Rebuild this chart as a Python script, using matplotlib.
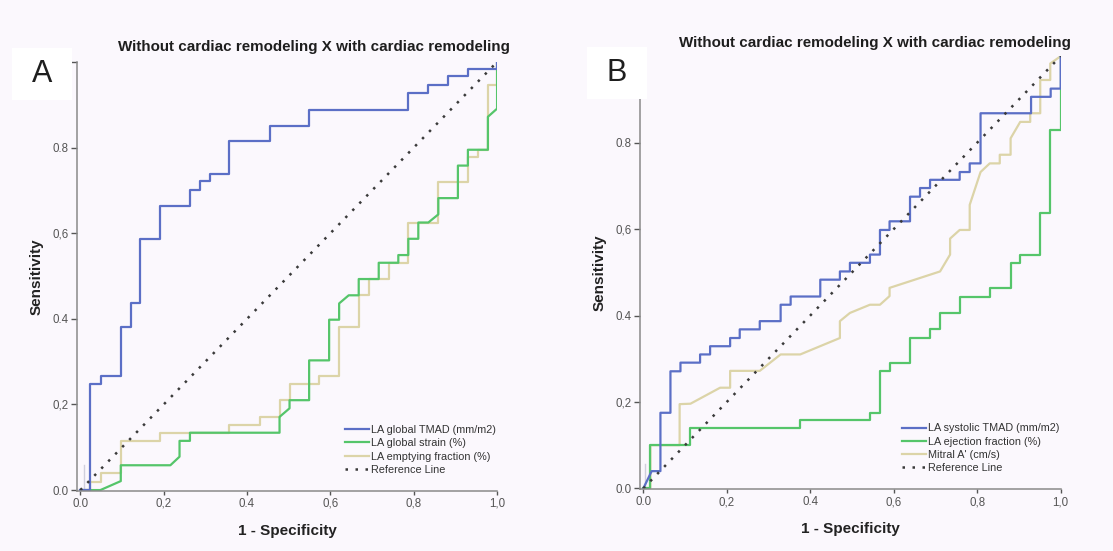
import matplotlib
matplotlib.use("Agg")
import matplotlib.pyplot as plt
from matplotlib.patches import Rectangle

plt.rcParams['font.family'] = ['Liberation Sans', 'DejaVu Sans']

# ROC curves (vertices of each polyline: 1 - specificity, sensitivity)
title = "Without cardiac remodeling X with cardiac remodeling"

a_tmad_x = [0, 0.024, 0.024, 0.049, 0.049, 0.097, 0.097, 0.121, 0.121, 0.144, 0.144, 0.192, 0.192,
            0.262, 0.262, 0.287, 0.287, 0.310, 0.310, 0.357, 0.357, 0.454, 0.454, 0.549, 0.549,
            0.787, 0.787, 0.835, 0.835, 0.883, 0.883, 0.930, 0.930, 1.0, 1.0]
a_tmad_y = [0, 0, 0.247, 0.247, 0.266, 0.266, 0.380, 0.380, 0.436, 0.436, 0.587, 0.587, 0.664,
            0.664, 0.701, 0.701, 0.721, 0.721, 0.739, 0.739, 0.815, 0.815, 0.851, 0.851, 0.889,
            0.889, 0.928, 0.928, 0.947, 0.947, 0.967, 0.967, 0.984, 0.984, 1.0]

a_strain_x = [0, 0.048, 0.097, 0.097, 0.216, 0.238, 0.238, 0.263, 0.263, 0.478, 0.478, 0.502, 0.502,
              0.549, 0.549, 0.597, 0.597, 0.621, 0.621, 0.644, 0.668, 0.668, 0.716, 0.716, 0.763,
              0.763, 0.787, 0.787, 0.811, 0.811, 0.835, 0.859, 0.859, 0.906, 0.906, 0.930, 0.930,
              0.978, 0.978, 1.0, 1.0]
a_strain_y = [0, 0, 0.021, 0.058, 0.058, 0.078, 0.115, 0.115, 0.134, 0.134, 0.171, 0.191, 0.210,
              0.210, 0.303, 0.303, 0.398, 0.398, 0.436, 0.455, 0.455, 0.493, 0.493, 0.531, 0.531,
              0.549, 0.549, 0.587, 0.587, 0.625, 0.625, 0.644, 0.682, 0.682, 0.758, 0.758, 0.795,
              0.795, 0.872, 0.891, 1.0]

a_empty_x = [0, 0.024, 0.024, 0.049, 0.049, 0.097, 0.097, 0.192, 0.192, 0.357, 0.357, 0.430, 0.430,
             0.478, 0.478, 0.502, 0.502, 0.573, 0.573, 0.621, 0.621, 0.668, 0.668, 0.692, 0.692,
             0.740, 0.740, 0.787, 0.787, 0.859, 0.859, 0.930, 0.930, 0.954, 0.954, 0.978, 0.978,
             1.0, 1.0]
a_empty_y = [0, 0, 0.019, 0.019, 0.039, 0.039, 0.115, 0.115, 0.134, 0.134, 0.153, 0.153, 0.171,
             0.171, 0.210, 0.210, 0.247, 0.247, 0.267, 0.267, 0.380, 0.380, 0.455, 0.455, 0.493,
             0.493, 0.531, 0.531, 0.625, 0.625, 0.720, 0.720, 0.777, 0.777, 0.795, 0.795, 0.947,
             0.947, 1.0]

b_tmad_x = [0, 0.01, 0.02, 0.041, 0.041, 0.065, 0.065, 0.089, 0.089, 0.136, 0.136, 0.160, 0.160,
            0.208, 0.208, 0.231, 0.231, 0.279, 0.279, 0.329, 0.329, 0.353, 0.353, 0.424, 0.424,
            0.471, 0.471, 0.495, 0.495, 0.543, 0.543, 0.567, 0.567, 0.590, 0.590, 0.639, 0.639,
            0.663, 0.663, 0.687, 0.687, 0.758, 0.758, 0.782, 0.782, 0.808, 0.808, 0.929, 0.929,
            0.976, 0.976, 1.0, 1.0]
b_tmad_y = [0, 0.02, 0.04, 0.04, 0.175, 0.175, 0.271, 0.271, 0.291, 0.291, 0.310, 0.310, 0.329,
            0.329, 0.348, 0.348, 0.368, 0.368, 0.387, 0.387, 0.425, 0.425, 0.444, 0.444, 0.483,
            0.483, 0.502, 0.502, 0.522, 0.522, 0.541, 0.541, 0.598, 0.598, 0.618, 0.618, 0.675,
            0.675, 0.695, 0.695, 0.714, 0.714, 0.732, 0.732, 0.752, 0.752, 0.868, 0.868, 0.906,
            0.906, 0.925, 0.925, 1.0]

b_ef_x = [0, 0.016, 0.016, 0.113, 0.113, 0.376, 0.376, 0.543, 0.543, 0.567, 0.567, 0.590, 0.590,
          0.639, 0.639, 0.687, 0.687, 0.711, 0.711, 0.758, 0.758, 0.830, 0.830, 0.880, 0.880,
          0.903, 0.903, 0.951, 0.951, 0.975, 0.975, 1.0, 1.0]
b_ef_y = [0, 0, 0.1, 0.1, 0.139, 0.139, 0.158, 0.158, 0.175, 0.175, 0.271, 0.271, 0.291, 0.291,
          0.348, 0.348, 0.368, 0.368, 0.406, 0.406, 0.444, 0.444, 0.464, 0.464, 0.522, 0.522,
          0.541, 0.541, 0.637, 0.637, 0.829, 0.829, 1.0]

b_mitral_x = [0, 0.017, 0.017, 0.087, 0.087, 0.113, 0.184, 0.208, 0.208, 0.279, 0.329, 0.376, 0.471,
              0.471, 0.495, 0.543, 0.567, 0.590, 0.590, 0.711, 0.735, 0.735, 0.758, 0.782, 0.782,
              0.808, 0.830, 0.854, 0.854, 0.880, 0.880, 0.903, 0.927, 0.927, 0.951, 0.951, 0.975,
              0.975, 1.0]
b_mitral_y = [0, 0, 0.1, 0.1, 0.195, 0.196, 0.233, 0.233, 0.272, 0.272, 0.310, 0.310, 0.348,
              0.387, 0.406, 0.425, 0.425, 0.445, 0.464, 0.502, 0.541, 0.578, 0.598, 0.598, 0.656,
              0.732, 0.752, 0.752, 0.772, 0.772, 0.810, 0.848, 0.848, 0.868, 0.868, 0.945, 0.945,
              0.983, 1.0]

# faint vertical stub near the origin in both panels
a_stub_x, a_stub_y = [0.008, 0.008], [0, 0.058]
b_stub_x, b_stub_y = [0.004, 0.004], [0, 0.056]

ticks = [0, 0.2, 0.4, 0.6, 0.8, 1.0]
xtick_labels = ["0.0", "0,2", "0.4", "0,6", "0,8", "1,0"]
# the 1.0 label sits under the white panel-letter box, so it is left blank
ytick_labels = ["0.0", "0,2", "0.4", "0,6", "0.8", ""]

blue = '#5b6fc6'
green = '#55c56a'
tan = '#dcd4a8'
bg = '#fbf8fd'

fig = plt.figure(figsize=(11.13, 5.51), dpi=100, facecolor=bg)
ax_a = fig.add_axes([0.0692, 0.109, 0.3774, 0.7785])
ax_b = fig.add_axes([0.575, 0.112, 0.378, 0.786])

panels = [
    (ax_a, [(a_tmad_x, a_tmad_y, blue, 'LA global TMAD (mm/m2)'),
            (a_strain_x, a_strain_y, green, 'LA global strain (%)'),
            (a_empty_x, a_empty_y, tan, 'LA emptying fraction (%)')], (a_stub_x, a_stub_y)),
    (ax_b, [(b_tmad_x, b_tmad_y, blue, 'LA systolic TMAD (mm/m2)'),
            (b_ef_x, b_ef_y, green, 'LA ejection fraction (%)'),
            (b_mitral_x, b_mitral_y, tan, "Mitral A' (cm/s)")], (b_stub_x, b_stub_y)),
]

for ax, curves, stub in panels:
    ax.set_facecolor(bg)
    ax.plot(stub[0], stub[1], color='#cfcfdc', lw=1.0)
    lines = []
    # draw tan first so blue/green sit on top like the original
    for x, y, c, lab in curves[::-1]:
        ln, = ax.plot(x, y, color=c, lw=1.6, label=lab)
        lines.append(ln)
    ref, = ax.plot([0, 1], [0, 1], color='#3a3a3a', lw=1.8, linestyle=(0, (1, 3.0)),
                   label='Reference Line')
    handles = lines[::-1] + [ref]
    ax.legend(handles=handles, loc='lower right', bbox_to_anchor=(1.015, 0.02), frameon=False,
              fontsize=7.8, handlelength=2.2, handletextpad=0.2, labelspacing=0.3,
              borderpad=0.2, labelcolor='#333333')

    ax.set_xlim(-0.008, 1.0)
    ax.set_ylim(-0.002, 1.0)
    ax.set_xticks(ticks)
    ax.set_xticklabels(xtick_labels)
    ax.set_yticks(ticks)
    ax.set_yticklabels(ytick_labels)
    ax.tick_params(labelsize=8.3, colors='#555555', length=4, width=1, direction='out', pad=2)
    ax.tick_params(axis='x', length=3)
    for s in ['top', 'right']:
        ax.spines[s].set_visible(False)
    for s in ['left', 'bottom']:
        ax.spines[s].set_color('#8a8a8a')
        ax.spines[s].set_linewidth(1.1)
    ax.set_ylabel('Sensitivity', fontsize=11, fontweight='bold', color='#222222', labelpad=6)
    ax.set_xlabel('1 - Specificity', fontsize=11, fontweight='bold', color='#222222', labelpad=10)

fig.text(313.5 / 1113, 1 - 47 / 551, title, ha='center', va='center', fontsize=10.9,
         fontweight='bold', color='#1e1e1e')
fig.text(875 / 1113, 1 - 43 / 551, title, ha='center', va='center', fontsize=10.9,
         fontweight='bold', color='#1e1e1e')

# white label boxes "A" and "B"
for (x0, y0, x1, y1, lab) in [(12, 48, 72, 100, 'A'), (587, 47, 647, 99, 'B')]:
    r = Rectangle((x0 / 1113, 1 - y1 / 551), (x1 - x0) / 1113, (y1 - y0) / 551,
                  transform=fig.transFigure, facecolor='white', edgecolor='none', zorder=10)
    fig.add_artist(r)
    fig.text((x0 + x1) / 2 / 1113, 1 - (y0 + y1) / 2 / 551, lab, ha='center', va='center',
             fontsize=22, color='#1e1e1e', zorder=11)

fig.savefig('out.png', dpi=100, facecolor=bg)
